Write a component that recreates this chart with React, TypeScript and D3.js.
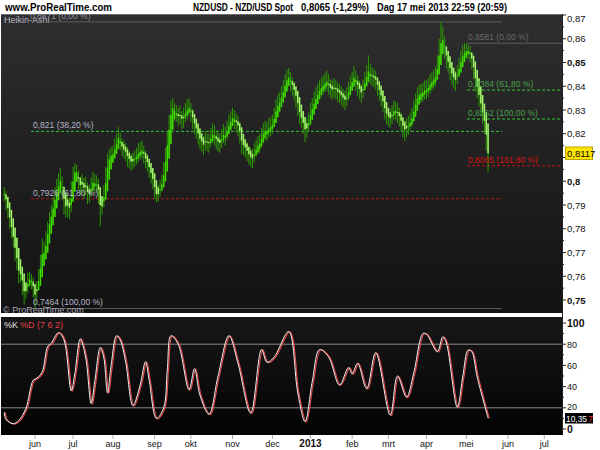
import * as d3 from 'd3'

// trading days (Mon-Fri) from 9 May 2012, last bar 17 May 2013
const firstDay = '2012-05-09'
const axisEnd = '2013-07-31'

// raw daily NZD/USD prices
const closes = [
  0.7945, 0.7910, 0.7870, 0.7830, 0.7790, 0.7750, 0.7700, 0.7660, 0.7600, 0.7610, 0.7560, 0.7530, 0.7545, 0.7580, 0.7590, 0.7580, 0.7545,
  0.7520, 0.7545, 0.7600, 0.7656, 0.7710, 0.7690, 0.7750, 0.7795, 0.7830, 0.7860, 0.7900, 0.7934, 0.7960, 0.7985, 0.8010, 0.7960, 0.7910, 0.7890, 0.7905, 0.7880, 0.7960,
  0.8020, 0.8050, 0.8030, 0.8000, 0.7975, 0.7990, 0.7960, 0.7980, 0.7940, 0.7950, 0.7975, 0.8000, 0.7985, 0.7990, 0.7950, 0.7880, 0.7900, 0.7950, 0.8020, 0.8077, 0.8100, 0.8110,
  0.8119, 0.8140, 0.8165, 0.8187, 0.8160, 0.8140, 0.8130, 0.8120, 0.8100, 0.8090, 0.8080, 0.8085, 0.8095, 0.8103, 0.8115, 0.8125, 0.8130, 0.8110, 0.8090, 0.8077, 0.8050, 0.8030, 0.8006,
  0.7960, 0.7934, 0.7950, 0.7970, 0.7990, 0.8040, 0.8100, 0.8174, 0.8230, 0.8300, 0.8310, 0.8290, 0.8287, 0.8270, 0.8280, 0.8258, 0.8270, 0.8290, 0.8300, 0.8313,
  0.8290, 0.8260, 0.8235, 0.8215, 0.8195, 0.8174, 0.8165, 0.8150, 0.8170, 0.8160, 0.8160, 0.8185, 0.8200, 0.8190, 0.8175, 0.8165, 0.8160, 0.8180, 0.8200, 0.8190, 0.8216, 0.8240, 0.8255,
  0.8270, 0.8260, 0.8245, 0.8230, 0.8200, 0.8160, 0.8150, 0.8140, 0.8125, 0.8110, 0.8100, 0.8095, 0.8120, 0.8140, 0.8155, 0.8160, 0.8185, 0.8205, 0.8216, 0.8210, 0.8225, 0.8228,
  0.8240, 0.8270, 0.8300, 0.8320, 0.8335, 0.8355, 0.8380, 0.8410, 0.8430, 0.8439, 0.8420, 0.8400, 0.8380, 0.8355, 0.8320, 0.8280, 0.8265, 0.8240, 0.8216, 0.8225, 0.8250,
  0.8287, 0.8310, 0.8330, 0.8350, 0.8370, 0.8385, 0.8395, 0.8405, 0.8413, 0.8420, 0.8405, 0.8390, 0.8384, 0.8395, 0.8385, 0.8375, 0.8370, 0.8360, 0.8350, 0.8340, 0.8355, 0.8380, 0.8405,
  0.8420, 0.8440, 0.8420, 0.8400, 0.8385, 0.8370, 0.8390, 0.8420, 0.8445, 0.8456, 0.8450, 0.8440, 0.8435, 0.8426, 0.8400, 0.8380, 0.8355, 0.8330, 0.8300, 0.8280,
  0.8270, 0.8265, 0.8280, 0.8300, 0.8295, 0.8287, 0.8270, 0.8250, 0.8230, 0.8216, 0.8225, 0.8235, 0.8250, 0.8270, 0.8300, 0.8330, 0.8355, 0.8365, 0.8370, 0.8375, 0.8384,
  0.8384, 0.8395, 0.8410, 0.8420, 0.8430, 0.8440, 0.8480, 0.8540, 0.8580, 0.8595, 0.8560, 0.8520, 0.8498, 0.8470, 0.8450, 0.8435, 0.8426, 0.8450, 0.8480, 0.8510, 0.8530, 0.8545,
  0.8550, 0.8553, 0.8540, 0.8510, 0.8470, 0.8420, 0.8390, 0.8355, 0.8320, 0.8280, 0.8245, 0.8180, 0.8065,
]

const highs = [
  0.7975, 0.7960, 0.7925, 0.7890, 0.7850, 0.7805, 0.7765, 0.7720, 0.7665, 0.7650, 0.7640, 0.7575, 0.7570, 0.7615, 0.7620, 0.7610, 0.7595,
  0.7560, 0.7580, 0.7630, 0.7690, 0.7760, 0.7745, 0.7790, 0.7830, 0.7870, 0.7900, 0.7935, 0.7975, 0.8010, 0.8035, 0.8055, 0.8020, 0.7975, 0.7935, 0.7945, 0.7930, 0.8000,
  0.8060, 0.8075, 0.8070, 0.8045, 0.8020, 0.8030, 0.8015, 0.8020, 0.7995, 0.7985, 0.8015, 0.8040, 0.8030, 0.8025, 0.8010, 0.7960, 0.7935, 0.7985, 0.8060, 0.8115, 0.8135, 0.8145,
  0.8150, 0.8180, 0.8200, 0.8230, 0.8205, 0.8180, 0.8170, 0.8160, 0.8145, 0.8130, 0.8115, 0.8120, 0.8130, 0.8140, 0.8160, 0.8165, 0.8170, 0.8150, 0.8130, 0.8115, 0.8095, 0.8070, 0.8040,
  0.8010, 0.7975, 0.7985, 0.8005, 0.8030, 0.8080, 0.8140, 0.8210, 0.8280, 0.8340, 0.8350, 0.8330, 0.8320, 0.8310, 0.8320, 0.8295, 0.8310, 0.8330, 0.8345, 0.8350,
  0.8330, 0.8305, 0.8280, 0.8260, 0.8240, 0.8215, 0.8205, 0.8190, 0.8210, 0.8200, 0.8200, 0.8225, 0.8245, 0.8235, 0.8215, 0.8205, 0.8200, 0.8220, 0.8240, 0.8230, 0.8255, 0.8280, 0.8295,
  0.8310, 0.8300, 0.8285, 0.8275, 0.8250, 0.8210, 0.8190, 0.8180, 0.8165, 0.8150, 0.8140, 0.8135, 0.8160, 0.8175, 0.8190, 0.8200, 0.8225, 0.8245, 0.8255, 0.8250, 0.8265, 0.8270,
  0.8280, 0.8310, 0.8345, 0.8365, 0.8375, 0.8400, 0.8425, 0.8450, 0.8470, 0.8477, 0.8460, 0.8440, 0.8420, 0.8395, 0.8365, 0.8325, 0.8300, 0.8280, 0.8255, 0.8265, 0.8290,
  0.8330, 0.8350, 0.8375, 0.8395, 0.8410, 0.8425, 0.8435, 0.8445, 0.8455, 0.8465, 0.8450, 0.8430, 0.8425, 0.8435, 0.8425, 0.8415, 0.8410, 0.8400, 0.8390, 0.8380, 0.8395, 0.8420, 0.8445,
  0.8460, 0.8485, 0.8465, 0.8445, 0.8425, 0.8410, 0.8430, 0.8460, 0.8490, 0.8530, 0.8495, 0.8480, 0.8475, 0.8465, 0.8440, 0.8420, 0.8395, 0.8370, 0.8340, 0.8320,
  0.8310, 0.8305, 0.8320, 0.8340, 0.8335, 0.8330, 0.8310, 0.8290, 0.8270, 0.8255, 0.8265, 0.8275, 0.8290, 0.8310, 0.8340, 0.8370, 0.8395, 0.8405, 0.8410, 0.8415, 0.8425,
  0.8425, 0.8435, 0.8450, 0.8460, 0.8470, 0.8485, 0.8530, 0.8600, 0.8671, 0.8650, 0.8610, 0.8565, 0.8540, 0.8515, 0.8490, 0.8475, 0.8465, 0.8490, 0.8520, 0.8550, 0.8575, 0.8581,
  0.8580, 0.8575, 0.8570, 0.8545, 0.8510, 0.8465, 0.8430, 0.8395, 0.8360, 0.8320, 0.8290, 0.8230, 0.8185,
]

const lows = [
  0.7915, 0.7880, 0.7845, 0.7800, 0.7760, 0.7720, 0.7665, 0.7625, 0.7570, 0.7575, 0.7520, 0.7480, 0.7505, 0.7530, 0.7555, 0.7545, 0.7510,
  0.7464, 0.7505, 0.7540, 0.7580, 0.7640, 0.7650, 0.7680, 0.7735, 0.7780, 0.7815, 0.7845, 0.7880, 0.7910, 0.7935, 0.7960, 0.7920, 0.7860, 0.7845, 0.7850, 0.7840, 0.7870,
  0.7955, 0.8005, 0.8000, 0.7965, 0.7940, 0.7950, 0.7925, 0.7940, 0.7905, 0.7910, 0.7935, 0.7960, 0.7950, 0.7950, 0.7905, 0.7810, 0.7860, 0.7890, 0.7940, 0.8010, 0.8060, 0.8075,
  0.8075, 0.8100, 0.8120, 0.8150, 0.8130, 0.8105, 0.8095, 0.8085, 0.8060, 0.8055, 0.8045, 0.8050, 0.8060, 0.8070, 0.8080, 0.8090, 0.8095, 0.8075, 0.8055, 0.8040, 0.8015, 0.7990, 0.7965,
  0.7925, 0.7910, 0.7915, 0.7935, 0.7955, 0.7990, 0.8050, 0.8120, 0.8180, 0.8245, 0.8270, 0.8255, 0.8250, 0.8230, 0.8240, 0.8220, 0.8225, 0.8250, 0.8260, 0.8275,
  0.8250, 0.8220, 0.8200, 0.8180, 0.8155, 0.8135, 0.8125, 0.8110, 0.8130, 0.8125, 0.8120, 0.8145, 0.8160, 0.8150, 0.8135, 0.8125, 0.8120, 0.8140, 0.8160, 0.8150, 0.8175, 0.8200, 0.8215,
  0.8230, 0.8220, 0.8205, 0.8190, 0.8160, 0.8115, 0.8110, 0.8100, 0.8085, 0.8070, 0.8060, 0.8055, 0.8080, 0.8100, 0.8115, 0.8120, 0.8145, 0.8165, 0.8175, 0.8170, 0.8185, 0.8190,
  0.8200, 0.8230, 0.8260, 0.8280, 0.8295, 0.8315, 0.8340, 0.8370, 0.8390, 0.8400, 0.8380, 0.8360, 0.8340, 0.8310, 0.8275, 0.8240, 0.8225, 0.8200, 0.8165, 0.8185, 0.8210,
  0.8245, 0.8270, 0.8290, 0.8310, 0.8330, 0.8345, 0.8355, 0.8365, 0.8375, 0.8380, 0.8365, 0.8350, 0.8345, 0.8355, 0.8345, 0.8335, 0.8330, 0.8320, 0.8310, 0.8300, 0.8315, 0.8340, 0.8365,
  0.8380, 0.8400, 0.8380, 0.8360, 0.8345, 0.8330, 0.8350, 0.8380, 0.8405, 0.8415, 0.8410, 0.8400, 0.8395, 0.8385, 0.8360, 0.8340, 0.8315, 0.8290, 0.8260, 0.8240,
  0.8230, 0.8225, 0.8240, 0.8260, 0.8255, 0.8245, 0.8230, 0.8210, 0.8185, 0.8170, 0.8185, 0.8195, 0.8210, 0.8230, 0.8260, 0.8290, 0.8315, 0.8325, 0.8330, 0.8335, 0.8345,
  0.8345, 0.8355, 0.8370, 0.8380, 0.8390, 0.8400, 0.8440, 0.8495, 0.8535, 0.8550, 0.8515, 0.8475, 0.8455, 0.8425, 0.8405, 0.8390, 0.8380, 0.8410, 0.8440, 0.8470, 0.8490, 0.8505,
  0.8515, 0.8515, 0.8500, 0.8470, 0.8430, 0.8380, 0.8350, 0.8315, 0.8275, 0.8240, 0.8200, 0.8130, 0.8040,
]

// stochastic %K (7 6 2), turning points
const stochDates = [
  '2012-05-09', '2012-05-10', '2012-05-16', '2012-05-21', '2012-05-25', '2012-05-31', '2012-06-04', '2012-06-07',
  '2012-06-12', '2012-06-14', '2012-06-20', '2012-06-25', '2012-06-29', '2012-07-03', '2012-07-06', '2012-07-11',
  '2012-07-16', '2012-07-18', '2012-07-23', '2012-07-25', '2012-07-27', '2012-07-31', '2012-08-03', '2012-08-07',
  '2012-08-10', '2012-08-16', '2012-08-22', '2012-08-27', '2012-08-29', '2012-09-04', '2012-09-10', '2012-09-12',
  '2012-09-14', '2012-09-20', '2012-09-28', '2012-10-03', '2012-10-08', '2012-10-15', '2012-10-22', '2012-10-30',
  '2012-11-06', '2012-11-15', '2012-11-23', '2012-11-28', '2012-12-04', '2012-12-14', '2012-12-21', '2012-12-27',
  '2013-01-02', '2013-01-08', '2013-01-15', '2013-01-23', '2013-01-30', '2013-02-01', '2013-02-06', '2013-02-13',
  '2013-02-20', '2013-03-04', '2013-03-08', '2013-03-15', '2013-03-21', '2013-03-28', '2013-04-01', '2013-04-09',
  '2013-04-12', '2013-04-16', '2013-04-24', '2013-04-29', '2013-05-02', '2013-05-06', '2013-05-09', '2013-05-17',
]
const stochK = [
  16, 9, 5, 8, 19.5, 46, 48, 54,
  78, 81, 91, 84, 36, 52.5, 85, 67,
  24, 45, 77, 67, 34, 60, 88, 84,
  63.5, 22, 41.5, 63.5, 46, 10, 20, 56,
  88, 80, 37, 57, 32, 14, 50, 88,
  62, 15, 75, 63, 68, 92, 34, 7,
  45, 75, 68, 41.5, 58, 52, 62, 38,
  72, 13, 50, 30, 53, 90, 89.6, 73,
  87, 81, 20.5, 49, 74.5, 73, 49, 10.35,
]

const monthStarts = [
  '2012-06-01', '2012-07-01', '2012-08-01', '2012-09-01', '2012-10-01', '2012-11-01', '2012-12-01',
  '2013-01-01', '2013-02-01', '2013-03-01', '2013-04-01', '2013-05-01', '2013-06-01', '2013-07-01',
]
const monthLabels = ['jun', 'jul', 'aug', 'sep', 'okt', 'nov', 'dec', '2013', 'feb', 'mrt', 'apr', 'mei', 'jun', 'jul']

// 0,81 sits under the yellow last-value box, so it is not printed
const priceTicks = [0.75, 0.76, 0.77, 0.78, 0.79, 0.8, 0.82, 0.83, 0.84, 0.85, 0.86, 0.87]
const stochTicks = [0, 20, 40, 60, 80, 100]

// fibonacci retracement (left) and extension (right)
const fibLeftValues = [0.8671, 0.821, 0.7926, 0.7464]
const fibLeftLabels = ['0,8671 (0,00 %)', '0,821 (38,20 %)', '0,7926 (61,80 %)', '0,7464 (100,00 %)']
const fibRightValues = [0.8581, 0.8384, 0.8262, 0.8065]
const fibRightLabels = ['0,8581 (0,00 %)', '0,8384 (61,80 %)', '0,8262 (100,00 %)', '0,8065 (161,80 %)']

const lastHA = '0,8117'
const lastK = '10,35'

const FONT = "'Liberation Sans', Arial, sans-serif"

const parse = d3.timeParse('%Y-%m-%d')
const fmt = d3.timeFormat('%Y-%m-%d')
const days = d3
  .timeDay.range(parse(firstDay)!, d3.timeDay.offset(parse(axisEnd)!, 1))
  .filter((d) => d.getDay() !== 0 && d.getDay() !== 6)
const dayIndex = new Map(days.map((d, i) => [fmt(d), i]))
const firstIndexOn = (s: string) => days.findIndex((d) => d >= parse(s)!)

const comma = (v: number) => String(+v.toFixed(4)).replace('.', ',')

export default function App() {
  const left = 1
  const right = 562
  const mainTop = 14
  const mainBottom = 313
  const subTop = 317
  const subBottom = 435

  const x = d3.scaleLinear().domain([firstIndexOn('2012-06-01'), firstIndexOn('2013-06-01')]).range([35, 508])
  const y = d3.scaleLinear().domain([0.75, 0.87]).range([300, 15])
  const ys = d3.scaleLinear().domain([0, 100]).range([429, 323])

  // heikin-ashi bars from the raw prices
  const bars: { i: number; o: number; c: number; h: number; l: number }[] = []
  closes.forEach((c, i) => {
    const rawO = i === 0 ? (highs[0] + lows[0]) / 2 : closes[i - 1]
    const hc = (rawO + highs[i] + lows[i] + c) / 4
    const ho = i === 0 ? (rawO + c) / 2 : (bars[i - 1].o + bars[i - 1].c) / 2
    bars.push({ i, o: ho, c: hc, h: Math.max(highs[i], ho, hc), l: Math.min(lows[i], ho, hc) })
  })

  const stochPts = stochDates.map((d, k) => [x(dayIndex.get(d)!), ys(stochK[k])] as [number, number])
  const stochLine = d3.line().curve(d3.curveCatmullRom.alpha(0.5))(stochPts) || ''

  return (
    <svg width={600} height={450} style={{ display: 'block', background: '#fff' }} fontFamily={FONT}>
      <style>{'body{margin:0}'}</style>
      <defs>
        <linearGradient id="mainBg" x1="0" y1="0" x2="0" y2="1">
          <stop offset="0%" stopColor="#2e2e2e" />
          <stop offset="100%" stopColor="#121212" />
        </linearGradient>
        <linearGradient id="subBg" x1="0" y1="0" x2="0" y2="1">
          <stop offset="0%" stopColor="#171717" />
          <stop offset="100%" stopColor="#030303" />
        </linearGradient>
        <clipPath id="mainClip">
          <rect x={left} y={mainTop} width={right - left} height={mainBottom - mainTop} />
        </clipPath>
        <clipPath id="subClip">
          <rect x={left} y={subTop} width={right - left} height={subBottom - subTop} />
        </clipPath>
      </defs>

      {/* header */}
      <g fontWeight="bold" fontSize={11} fill="#000">
        <text x={5} y={11} textLength={107} lengthAdjust="spacingAndGlyphs">www.ProRealTime.com</text>
        <text x={193} y={11} textLength={100} lengthAdjust="spacingAndGlyphs">NZDUSD - NZD/USD Spot</text>
        <text x={301} y={11} textLength={68} lengthAdjust="spacingAndGlyphs">0,8065 (-1,29%)</text>
        <text x={377} y={11} textLength={130} lengthAdjust="spacingAndGlyphs">Dag  17 mei 2013 22:59 (20:59)</text>
      </g>

      {/* main panel */}
      <rect x={left} y={mainTop} width={right - left} height={mainBottom - mainTop} fill="url(#mainBg)" />
      <line x1={left} x2={right} y1={mainTop + 0.5} y2={mainTop + 0.5} stroke="#6a6a6a" />
      <text x={4} y={23} fontSize={9} fill="#b8b8c8">Heikin-Ashi</text>

      <g clipPath="url(#mainClip)">
        {fibLeftValues.map((v, k) => (
          <line
            key={'fl' + k}
            x1={31}
            x2={502}
            y1={y(v)}
            y2={y(v)}
            stroke={k === 1 ? '#33c733' : k === 2 ? '#b01a1a' : '#5c5c5c'}
            strokeDasharray={k === 1 || k === 2 ? '3,2' : undefined}
          />
        ))}
        {fibRightValues.map((v, k) => (
          <line
            key={'fr' + k}
            x1={467}
            x2={right}
            y1={y(v)}
            y2={y(v)}
            stroke={k === 0 ? '#5c5c5c' : k === 3 ? '#c01414' : '#33c733'}
            strokeDasharray={k === 0 ? undefined : '3,2'}
          />
        ))}

        {bars.map((b) => {
          const cx = x(b.i)
          const up = b.c >= b.o
          const top = y(Math.max(b.o, b.c))
          const bot = y(Math.min(b.o, b.c))
          return (
            <g key={b.i}>
              <line x1={cx} x2={cx} y1={y(b.h)} y2={y(b.l)} stroke="#2c9a02" strokeWidth={1} />
              <rect
                x={cx - 0.75}
                y={top}
                width={1.5}
                height={Math.max(1, bot - top)}
                fill={up ? '#3fdc00' : '#a6f56e'}
              />
            </g>
          )
        })}

        {fibLeftLabels.map((t, k) => (
          <text key={'tl' + k} x={k === 0 ? 30 : 33} y={y(fibLeftValues[k]) - (k === 3 ? 4 : 3)} fontSize={8.5} fill={k === 0 ? '#8c8c9a' : '#b4b4c8'}>
            {t}
          </text>
        ))}
        {fibRightLabels.map((t, k) => (
          <text
            key={'tr' + k}
            x={468}
            y={y(fibRightValues[k]) - 3}
            fontSize={8.5}
            fill={k === 0 ? '#6a6a6a' : k === 3 ? '#d41414' : '#4aa04a'}
          >
            {t}
          </text>
        ))}
      </g>
      <text x={3} y={313} fontSize={9} fill="#a8a8b8">© ProRealTime.com</text>

      {/* price axis */}
      <line x1={right + 0.5} x2={right + 0.5} y1={mainTop} y2={subBottom} stroke="#222" />
      {d3.range(0.75, 0.8701, 0.005).map((v, k) => (
        <line key={'pt' + k} x1={right} x2={right + (k % 2 === 0 ? 4 : 2)} y1={y(v)} y2={y(v)} stroke="#222" />
      ))}
      {priceTicks.map((v, k) => (
        <text
          key={'pl' + k}
          x={567}
          y={Math.max(y(v) + 3.5, 22)}
          fontSize={9.5}
          fontWeight={[0.75, 0.8, 0.85].includes(v) ? 'bold' : 'normal'}
          fill="#111"
        >
          {comma(v)}
        </text>
      ))}
      <rect x={565.5} y={147} width={27} height={12.5} fill="#ffe600" stroke="#b9a400" />
      <text x={567} y={156.8} fontSize={9.5} fill="#000">{lastHA}</text>

      {/* separator */}
      <rect x={left} y={mainBottom} width={right - left} height={subTop - mainBottom} fill="#fff" />

      {/* stochastic panel */}
      <rect x={left} y={subTop} width={right - left} height={subBottom - subTop} fill="url(#subBg)" />
      <g clipPath="url(#subClip)">
        {[80, 20].map((v) => (
          <line key={'h' + v} x1={left} x2={right} y1={ys(v)} y2={ys(v)} stroke="#8a8a8a" />
        ))}
        <path d={stochLine} fill="none" stroke="#e04848" strokeWidth={1.2} transform="translate(1.2,0.4)" />
        <path d={stochLine} fill="none" stroke="#f2f2f2" strokeWidth={1} />
      </g>
      <text x={4} y={328} fontSize={9} fill="#e0e0e0">%K</text>
      <text x={20} y={328} fontSize={9} fill="#e04040">%D (7 6 2)</text>

      {d3.range(0, 101, 10).map((v) => (
        <line key={'st' + v} x1={right} x2={right + (v % 20 === 0 ? 4 : 2)} y1={ys(v)} y2={ys(v)} stroke="#222" />
      ))}
      {stochTicks.map((v) => (
        <text
          key={'sl' + v}
          x={567}
          y={ys(v) + (v === 20 ? 2.5 : 3.5)}
          fontSize={v === 0 || v === 100 ? 10.5 : 9}
          fontWeight={v === 0 || v === 100 ? 'bold' : 'normal'}
          fill="#111"
        >
          {v}
        </text>
      ))}
      <rect x={565} y={413} width={28} height={10.5} fill="#000" />
      <text x={566} y={421.5} fontSize={9} fill="#fff" textLength={21} lengthAdjust="spacingAndGlyphs">{lastK}</text>
      <text x={588} y={421.5} fontSize={9} fill="#e03030">7</text>

      {/* time axis */}
      {monthStarts.map((m, k) => {
        const mx = x(firstIndexOn(m))
        return (
          <g key={'m' + k}>
            <line x1={mx} x2={mx} y1={subBottom} y2={subBottom + 4} stroke="#aaa" />
            <text
              x={mx}
              y={447}
              textAnchor="middle"
              fontSize={monthLabels[k] === '2013' ? 10 : 9}
              fontWeight={monthLabels[k] === '2013' ? 'bold' : 'normal'}
              fill="#111"
            >
              {monthLabels[k]}
            </text>
          </g>
        )
      })}
    </svg>
  )
}
